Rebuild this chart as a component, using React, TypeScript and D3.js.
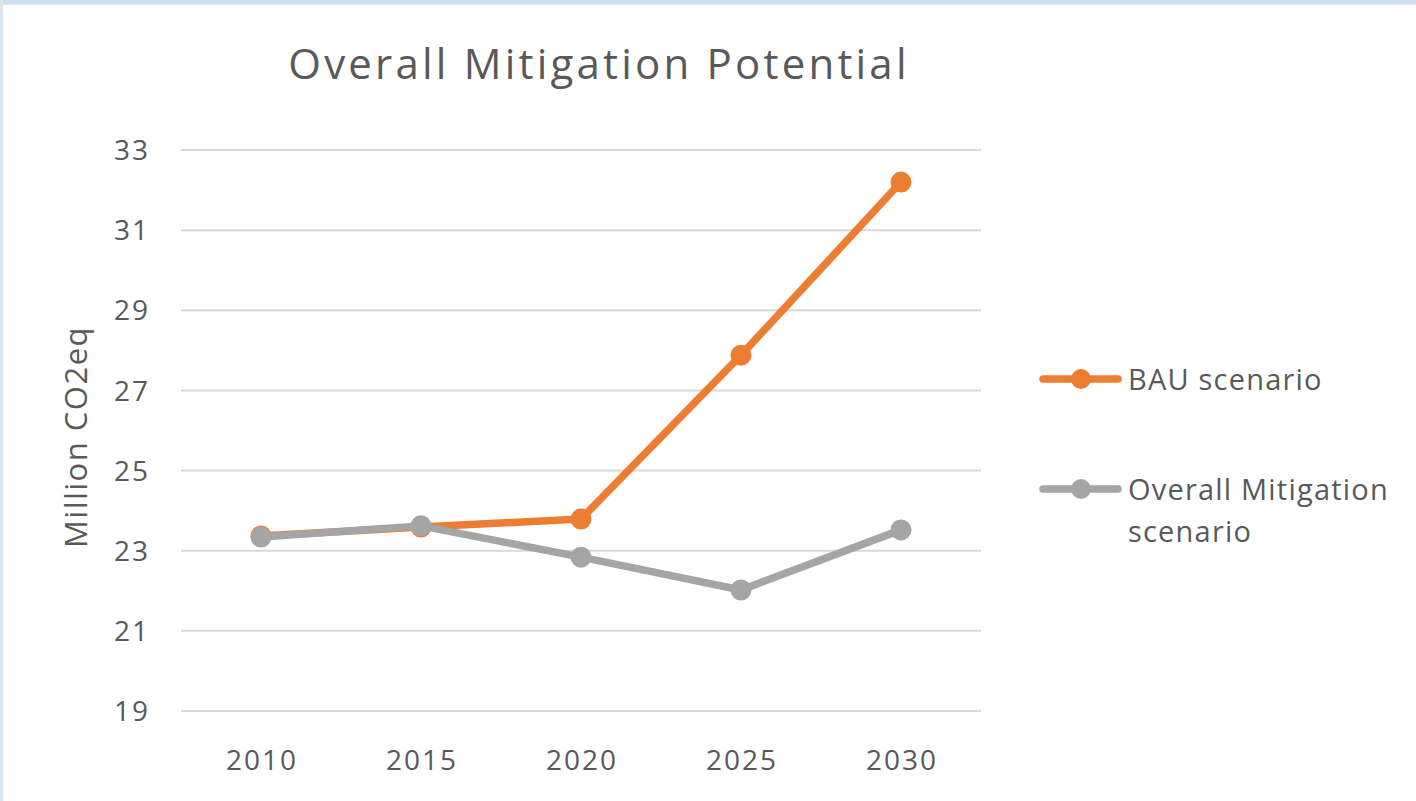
import React from "react";
import * as d3 from "d3";

const years = ["2010", "2015", "2020", "2025", "2030"];
const bauValues = [23.37, 23.59, 23.79, 27.88, 32.2];
const mitigationValues = [23.34, 23.62, 22.84, 22.02, 23.52];
const yTicks = [19, 21, 23, 25, 27, 29, 31, 33];
const seriesColors = ["#ED7D31", "#A5A5A5"];

const W = 1416;
const H = 801;
const FONT = "'Open Sans', 'Segoe UI', sans-serif";
const TEXT = "#595959";

export default function App() {
  const x = d3.scaleBand<string>().domain(years).range([181, 981]);
  const y = d3.scaleLinear().domain([19, 33]).range([711, 150]);
  const cx = (i: number) => (x(years[i]) as number) + x.bandwidth() / 2;
  const line = d3
    .line<number>()
    .x((_, i) => cx(i))
    .y((d) => y(d));

  const series = [bauValues, mitigationValues];

  return (
    <svg
      width={W}
      height={H}
      style={{ position: "absolute", left: 0, top: 0, display: "block" }}
    >
      <rect x={0} y={0} width={W} height={H} fill="#ffffff" />
      <rect x={0} y={0} width={W} height={4} fill="#cfe0f2" />
      <rect x={0} y={4} width={W} height={1} fill="#e6e6e6" />
      <rect x={0} y={0} width={3} height={H} fill="#dce6f0" />

      <text
        x={599}
        y={79}
        textAnchor="middle"
        fontFamily={FONT}
        fontSize={42}
        letterSpacing={3.2}
        fill={TEXT}
      >
        Overall Mitigation Potential
      </text>

      {yTicks.map((t) => (
        <g key={t}>
          <line
            x1={181}
            x2={981}
            y1={y(t)}
            y2={y(t)}
            stroke="#d9d9d9"
            strokeWidth={2}
          />
          <text
            x={150}
            y={y(t)}
            dy="0.36em"
            textAnchor="end"
            fontFamily={FONT}
            fontSize={28}
            letterSpacing={2}
            fill={TEXT}
          >
            {t}
          </text>
        </g>
      ))}

      {years.map((yr, i) => (
        <text
          key={yr}
          x={cx(i) + 1}
          y={770}
          textAnchor="middle"
          fontFamily={FONT}
          fontSize={28}
          letterSpacing={2}
          fill={TEXT}
        >
          {yr}
        </text>
      ))}

      <text
        transform={`translate(87, 437) rotate(-90)`}
        textAnchor="middle"
        fontFamily={FONT}
        fontSize={31}
        letterSpacing={1.5}
        fill={TEXT}
      >
        Million CO2eq
      </text>

      {series.map((vals, si) => (
        <g key={si}>
          <path
            d={line(vals) || ""}
            fill="none"
            stroke={seriesColors[si]}
            strokeWidth={7.5}
            strokeLinejoin="round"
            strokeLinecap="round"
          />
          {vals.map((v, i) => (
            <circle key={i} cx={cx(i)} cy={y(v)} r={10.5} fill={seriesColors[si]} />
          ))}
        </g>
      ))}

      {/* Legend */}
      <g>
        <line x1={1043} x2={1118} y1={379} y2={379} stroke={seriesColors[0]} strokeWidth={7.5} strokeLinecap="round" />
        <circle cx={1081} cy={379} r={10} fill={seriesColors[0]} />
        <text x={1128} y={390} fontFamily={FONT} fontSize={29} letterSpacing={1.2} fill={TEXT}>
          BAU scenario
        </text>
        <line x1={1043} x2={1118} y1={489} y2={489} stroke={seriesColors[1]} strokeWidth={7.5} strokeLinecap="round" />
        <circle cx={1081} cy={489} r={10} fill={seriesColors[1]} />
        <text x={1128} y={500} fontFamily={FONT} fontSize={29} letterSpacing={1.2} fill={TEXT}>
          Overall Mitigation
        </text>
        <text x={1128} y={542} fontFamily={FONT} fontSize={29} letterSpacing={1.2} fill={TEXT}>
          scenario
        </text>
      </g>
    </svg>
  );
}
